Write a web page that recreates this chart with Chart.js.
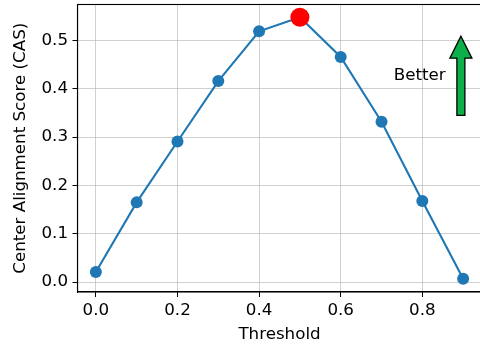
<!DOCTYPE html>
<html>
<head>
<meta charset="utf-8">
<script src="https://cdn.jsdelivr.net/npm/chart.js@4.4.1/dist/chart.umd.min.js"></script>
<style>
  html, body { margin: 0; padding: 0; background: #fff; overflow: hidden; }
  #wrap { position: relative; width: 480px; height: 345px; overflow: hidden; }
  /* canvas is a bit larger than the window so the plot frame sits where matplotlib put it */
  #casChart { position: absolute; left: 0; top: -5px; }
</style>
</head>
<body>
<div id="wrap"><canvas id="casChart" width="491" height="350"></canvas></div>
<script>
// data
const thresholds = [0.0, 0.1, 0.2, 0.3, 0.4, 0.5, 0.6, 0.7, 0.8, 0.9];
const casScores = [0.021, 0.165, 0.291, 0.416, 0.519, 0.548, 0.466, 0.332, 0.168, 0.007];
const xTicks = [0.0, 0.2, 0.4, 0.6, 0.8];
const yTicks = [0.0, 0.1, 0.2, 0.3, 0.4, 0.5];

// "Better" annotation (data coords)
const betterLabel = { text: 'Better', x: 0.73, y: 0.427 };
const betterArrow = { x: 0.8945, yFrom: 0.345, yTo: 0.509 };

const bestIdx = casScores.indexOf(Math.max(...casScores));

const FONT = 'DejaVu Sans';
const FS = 16.7;
Chart.defaults.font.family = FONT;
Chart.defaults.color = '#000';

// frame + arrow + label
const extras = {
    id: 'extras',
    afterDatasetsDraw(chart) {
        const { ctx, chartArea: a, scales: { x, y } } = chart;
        ctx.save();
        // arrow
        const cx = x.getPixelForValue(betterArrow.x);
        const yb = y.getPixelForValue(betterArrow.yFrom);
        const yt = y.getPixelForValue(betterArrow.yTo);
        const sw = 4, hw = 11, hl = 22;
        ctx.beginPath();
        ctx.moveTo(cx - sw, yb);
        ctx.lineTo(cx - sw, yt + hl);
        ctx.lineTo(cx - hw, yt + hl);
        ctx.lineTo(cx, yt);
        ctx.lineTo(cx + hw, yt + hl);
        ctx.lineTo(cx + sw, yt + hl);
        ctx.lineTo(cx + sw, yb);
        ctx.closePath();
        ctx.fillStyle = '#0cb04a';
        ctx.fill();
        ctx.lineWidth = 1.3;
        ctx.strokeStyle = '#000';
        ctx.stroke();
        // label
        ctx.font = FS + 'px ' + FONT;
        ctx.fillStyle = '#000';
        ctx.textAlign = 'left';
        ctx.textBaseline = 'middle';
        ctx.fillText(betterLabel.text, x.getPixelForValue(betterLabel.x), y.getPixelForValue(betterLabel.y));
        // frame
        ctx.lineWidth = 1.1;
        ctx.strokeStyle = '#000';
        ctx.strokeRect(a.left, a.top, a.right - a.left, a.bottom - a.top);
        ctx.restore();
    }
};

new Chart(document.getElementById('casChart'), {
    type: 'line',
    data: {
        datasets: [{
            label: 'best',
            data: [{ x: thresholds[bestIdx], y: casScores[bestIdx] }],
            showLine: false,
            pointRadius: 9.5,
            pointBackgroundColor: '#ff0000',
            pointBorderColor: '#ff0000',
            pointBorderWidth: 0,
            order: 0
        }, {
            label: 'CAS',
            data: thresholds.map((t, i) => ({ x: t, y: casScores[i] })),
            borderColor: '#1f77b4',
            backgroundColor: '#1f77b4',
            borderWidth: 2.1,
            pointRadius: 6,
            pointBackgroundColor: '#1f77b4',
            pointBorderWidth: 0,
            tension: 0,
            order: 1
        }]
    },
    options: {
        responsive: false,
        animation: false,
        events: [],
        layout: { padding: { top: 4, right: 3, left: 0, bottom: 0 } },
        plugins: { legend: { display: false }, tooltip: { enabled: false } },
        scales: {
            x: {
                type: 'linear',
                min: -0.045,
                max: 0.945,
                afterBuildTicks: axis => { axis.ticks = xTicks.map(v => ({ value: v })); },
                afterFit: axis => { axis.height = 53; axis.paddingLeft = 0; axis.paddingRight = 0; },
                ticks: { font: { size: FS }, padding: 4, maxRotation: 0, callback: v => v.toFixed(1) },
                grid: { color: 'rgba(176,176,176,0.75)', lineWidth: 0.8, tickLength: 5, tickColor: '#000', tickWidth: 1 },
                border: { color: '#000', width: 1.1 },
                title: { display: true, text: 'Threshold', font: { size: FS }, padding: { top: 2, bottom: 0 } }
            },
            y: {
                min: -0.0205,
                max: 0.5745,
                afterBuildTicks: axis => { axis.ticks = yTicks.map(v => ({ value: v })); },
                afterFit: axis => { axis.width = 77.5; axis.paddingTop = 0; axis.paddingBottom = 0; },
                ticks: { font: { size: FS }, padding: 4.5, callback: v => v.toFixed(1) },
                grid: { color: 'rgba(176,176,176,0.75)', lineWidth: 0.8, tickLength: 5, tickColor: '#000', tickWidth: 1 },
                border: { color: '#000', width: 1.1 },
                title: { display: true, text: 'Center Alignment Score (CAS)', font: { size: FS }, padding: { top: 10.5, bottom: 0 } }
            }
        }
    },
    plugins: [extras]
});
</script>
</body>
</html>
